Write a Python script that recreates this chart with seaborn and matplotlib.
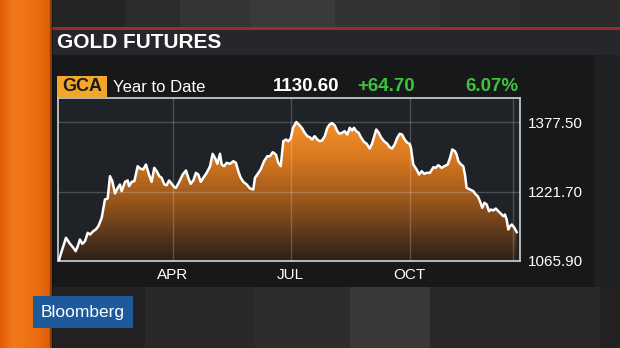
import numpy as np
import matplotlib
matplotlib.use("Agg")
import matplotlib.pyplot as plt
from matplotlib.patches import Rectangle
from matplotlib.colors import LinearSegmentedColormap
import seaborn as sns

# ---------------- data (day of year 2016, GCA settle) ----------------
days = [3.0, 5.1, 8.4, 11.5, 14.1, 15.9, 17.5, 19.2, 21.0, 23.1,
        25.2, 27.0, 29.5, 31.4, 33.4, 36.0, 38.5, 40.6, 42.4, 44.2,
        46.3, 48.4, 50.1, 51.4, 54.0, 56.1, 57.1, 59.2, 61.2, 63.8,
        65.6, 68.1, 70.2, 72.5, 74.6, 76.6, 78.5, 80.5, 82.3, 84.4,
        86.2, 88.0, 90.1, 92.1,
        93.4, 95.9, 98.6, 101.1, 102.9, 104.7, 106.8, 108.8, 110.6, 112.5,
        114.5, 117.1, 119.7, 121.7, 123.5, 125.3, 127.4, 128.7, 130.5, 132.5,
        135.1, 137.7, 139.7, 141.5, 143.4, 145.4, 148.0, 150.6, 153.1, 154.4,
        156.2, 158.8, 161.4, 163.9, 166.0, 168.1, 170.6, 172.4, 174.3, 176.3,
        178.4, 180.2, 182.0,
        183.8, 186.3, 188.9, 190.7, 192.8, 194.8, 196.7, 198.5, 200.5, 202.6,
        204.4, 206.2, 208.3, 210.3, 212.1, 213.9, 216.0, 218.0, 219.8, 221.6,
        223.7, 225.7, 227.6, 229.4, 230.9, 232.7, 234.5, 236.5, 238.6, 240.7,
        243.0, 244.8, 246.9, 248.1, 250.0, 252.0, 254.1, 256.6, 258.5, 260.3,
        262.3, 264.3, 266.2, 268.0, 270.0, 272.1, 273.9,
        274.9, 276.7, 279.3, 281.1, 283.2, 285.2, 287.1, 289.6, 292.2, 294.0,
        296.0, 298.6, 300.7, 303.3, 305.1, 306.8, 308.9, 310.2, 311.5, 313.6,
        315.3, 316.6, 317.9, 320.5, 323.1, 324.9, 326.5, 328.2, 330.0, 331.6,
        333.4, 335.2, 336.7, 338.5, 340.4, 342.4, 344.5, 346.2, 347.5, 348.8,
        350.1, 351.4, 352.8, 354.8, 356.6]

prices = [1068.0, 1087.9, 1117.9, 1104.4, 1095.4, 1087.9, 1099.1, 1114.1, 1104.4, 1110.3,
          1129.1, 1125.3, 1132.7, 1136.5, 1143.9, 1162.7, 1203.8, 1206.0, 1256.0, 1244.8,
          1217.2, 1230.0, 1237.4, 1222.4, 1243.4, 1246.4, 1233.6, 1243.4, 1244.8, 1278.4,
          1273.3, 1271.0, 1282.2, 1259.8, 1243.4, 1274.8, 1267.2, 1256.0, 1252.4, 1237.4,
          1235.8, 1246.4, 1239.0, 1231.3,
          1230.0, 1243.4, 1259.8, 1268.8, 1252.4, 1239.0, 1246.4, 1263.6, 1259.8, 1243.4,
          1252.4, 1263.6, 1278.4, 1306.2, 1297.2, 1283.8, 1306.2, 1282.2, 1278.4, 1286.0,
          1283.8, 1289.6, 1286.0, 1267.2, 1252.4, 1243.4, 1237.4, 1228.4, 1226.2, 1252.4,
          1259.8, 1271.0, 1289.6, 1300.8, 1300.8, 1309.8, 1304.6, 1286.0, 1278.4, 1334.5,
          1338.3, 1334.5, 1340.5,
          1364.5, 1377.5, 1370.0, 1364.0, 1353.3, 1345.7, 1343.4, 1338.3, 1345.7, 1338.3,
          1334.5, 1336.0, 1345.7, 1364.5, 1372.0, 1375.0, 1370.0, 1356.9, 1351.0, 1353.3,
          1356.9, 1349.5, 1364.5, 1358.4, 1364.5, 1356.9, 1353.3, 1342.1, 1333.1, 1328.6,
          1318.1, 1328.6, 1349.5, 1360.7, 1353.3, 1342.1, 1334.5, 1328.6, 1321.0, 1318.1,
          1327.1, 1342.1, 1351.0, 1349.5, 1338.3, 1330.9, 1328.6,
          1319.7, 1282.2, 1271.0, 1259.8, 1267.2, 1261.4, 1263.6, 1263.6, 1276.2, 1274.8,
          1280.7, 1274.8, 1278.4, 1282.2, 1297.2, 1315.9, 1312.0, 1304.6, 1289.6, 1282.2,
          1278.4, 1259.8, 1230.0, 1226.2, 1222.4, 1215.0, 1211.2, 1200.0, 1185.2, 1196.4,
          1192.6, 1177.5, 1181.3, 1179.1, 1183.6, 1177.5, 1171.7, 1166.3, 1170.1, 1158.9,
          1136.5, 1143.9, 1147.7, 1140.3, 1130.6]

assert len(days) == len(prices)

x_tick_pos = [91, 182, 274]
x_tick_labels = ["APR", "JUL", "OCT"]
y_ticks = [1065.90, 1221.70, 1377.50]

title = "GOLD FUTURES"
ticker = "GCA"
period = "Year to Date"
last_price = "1130.60"
net_change = "+64.70"
pct_change = "6.07%"
brand = "Bloomberg"

# ---------------- figure ----------------
plt.rcParams['font.family'] = ['Liberation Sans', 'DejaVu Sans']
W, H = 620, 348
fig = plt.figure(figsize=(W / 100, H / 100), dpi=100, facecolor="#1c1d1f")

bg = fig.add_axes([0, 0, 1, 1], zorder=0)
bg.set_xlim(0, W)
bg.set_ylim(H, 0)
bg.axis("off")

def rect(x0, y0, x1, y1, color, **kw):
    bg.add_patch(Rectangle((x0, y0), x1 - x0, y1 - y0, facecolor=color,
                           edgecolor="none", **kw))

# top studio background stripes
for x0, x1, c in [(52, 125, "#242424"), (125, 180, "#2c2c2c"), (180, 250, "#343434"),
                  (250, 335, "#3a3a3a"), (335, 440, "#333333"), (440, 520, "#2e2e2e"),
                  (520, 620, "#2b2b2b")]:
    rect(x0, 0, x1, 27, c)
# red accent line
rect(50, 26.5, 620, 29.5, "#a02a2a")
# title bar
rect(50, 29.5, 620, 55, "#25272a")
# chart panel
rect(52, 55, 594, 287, "#17181a")
rect(594, 55, 620, 287, "#1f2022")
# bottom studio stripes
for x0, x1, c in [(52, 145, "#222222"), (145, 255, "#292929"), (255, 350, "#2d2d2d"),
                  (350, 430, "#383838"), (430, 600, "#292929"), (600, 620, "#222222")]:
    rect(x0, 287, x1, H, c)

# orange band with horizontal gradient
ocmap = LinearSegmentedColormap.from_list(
    "o", ["#e25c06", "#f2781a", "#f07414", "#ea6c0e", "#d85806"])
bg.imshow(np.linspace(0, 1, 100).reshape(1, -1), extent=[0, 52, H, 0],
          aspect="auto", cmap=ocmap, zorder=1)
rect(50, 0, 53, H, "#000000", alpha=0.35, zorder=2)
bg.set_xlim(0, W)
bg.set_ylim(H, 0)

# texts
bg.text(57, 42.5, title, color="white", fontsize=15, fontweight="bold",
        ha="left", va="center")
rect(57, 76, 107, 96.5, "#f3a72a", zorder=2)
bg.text(82, 86.5, ticker, color="#1b1b1b", fontsize=13, fontweight="bold",
        ha="center", va="center", zorder=3)
bg.text(113, 87, period, color="white", fontsize=12, ha="left", va="center")
bg.text(339, 86.5, last_price, color="white", fontsize=13.5, fontweight="bold",
        ha="right", va="center")
bg.text(357, 86.5, net_change, color="#3cc43a", fontsize=13.5, fontweight="bold",
        ha="left", va="center")
bg.text(518, 86.5, pct_change, color="#3cc43a", fontsize=13.5, fontweight="bold",
        ha="right", va="center")
rect(33, 296, 133, 328, "#1c5a9c", zorder=3)
bg.text(83, 312, brand, color="white", fontsize=12.5, ha="center", va="center",
        zorder=4)

# ---------------- chart axes ----------------
px_per_day = 1.2945
jan1_px = 55.1
xlim = ((58 - jan1_px) / px_per_day, (520 - jan1_px) / px_per_day)
val_per_px = (1377.5 - 1065.9) / (261 - 122)
ylim = (1065.9, 1065.9 + (261 - 98) * val_per_px)

ax = fig.add_axes([58 / W, 1 - 261 / H, 462 / W, 163 / H], zorder=2)
ax.set_facecolor("#1f2226")

# gradient fill under the curve
fcmap = LinearSegmentedColormap.from_list(
    "f", [(0.0, "#2a2019"), (0.45, "#9c581c"), (0.75, "#d9791f"), (1.0, "#f5912c")])
vals = np.linspace(ylim[0], ylim[1], 300)
norm = np.clip((vals - 1065.9) / (1377.5 - 1065.9), 0, 1).reshape(-1, 1)
im = ax.imshow(norm, extent=[xlim[0], xlim[1], ylim[0], ylim[1]], origin="lower",
               aspect="auto", cmap=fcmap, vmin=0, vmax=1, zorder=1)
poly = ax.fill_between(days, prices, ylim[0], facecolor="none", edgecolor="none")
im.set_clip_path(poly.get_paths()[0], transform=ax.transData)

sns.lineplot(x=days, y=prices, ax=ax, color="white", linewidth=1.8, zorder=5)

ax.set_xlim(*xlim)
ax.set_ylim(*ylim)
ax.set_xticks(x_tick_pos)
ax.set_xticklabels(x_tick_labels)
ax.set_yticks(y_ticks)
ax.set_yticklabels([f"{v:.2f}" for v in y_ticks])
ax.yaxis.tick_right()
ax.tick_params(length=0, colors="white", labelsize=11)
ax.tick_params(axis="y", pad=6)
ax.tick_params(axis="x", pad=5)
ax.set_axisbelow(False)
ax.grid(True, color="white", alpha=0.2, linewidth=1)
ax.axvline(353.7, color="white", alpha=0.2, linewidth=1, zorder=2.5)
ax.set_xlabel("")
ax.set_ylabel("")
for s in ax.spines.values():
    s.set_color("#c4c4c4")
    s.set_linewidth(1.3)

fig.savefig("out.png", dpi=100, facecolor=fig.get_facecolor())
